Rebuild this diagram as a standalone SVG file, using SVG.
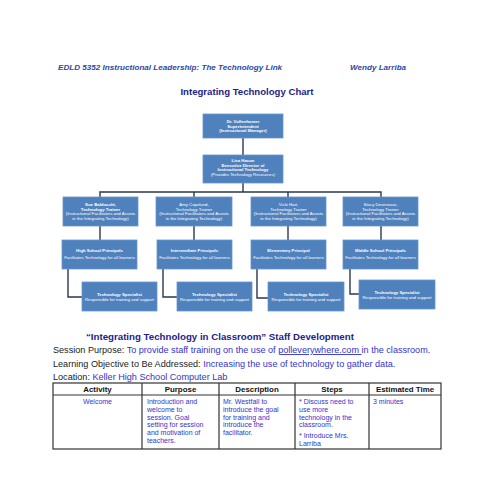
<svg xmlns="http://www.w3.org/2000/svg" width="495" height="495" viewBox="0 0 495 495">
<style>
.bg{fill:#ffffff}
.node{fill:#4F81BD;stroke:#6A96CC;stroke-width:0.8}
.nt{font-family:"Liberation Sans",Arial,sans-serif;font-size:4.3px;fill:#ffffff;text-anchor:middle}
.b{font-weight:bold}
.conn{fill:none;stroke:#2A3850;stroke-width:1.4}
.hdr{font-family:"Liberation Sans",Arial,sans-serif;font-size:8.1px;font-weight:bold;font-style:italic;fill:#2E4A9E}
.title{font-family:"Liberation Sans",Arial,sans-serif;font-size:9.6px;font-weight:bold;fill:#22228B;text-anchor:middle}
.sub{font-family:"Liberation Sans",Arial,sans-serif;font-size:9.7px;font-weight:bold;fill:#22228B}
.lbl{font-family:"Liberation Sans",Arial,sans-serif;font-size:9.1px;fill:#222222}
.val{fill:#3333CC}
.th{font-family:"Liberation Sans",Arial,sans-serif;font-size:7.9px;font-weight:bold;fill:#111111;text-anchor:middle}
.td{font-family:"Liberation Sans",Arial,sans-serif;font-size:7px;fill:#3333CC}
.grid{fill:none;stroke:#333333;stroke-width:1.2}
</style>
<rect class="bg" x="0" y="0" width="495" height="495"/>
<text class="hdr" x="58" y="70">EDLD 5352 Instructional Leadership: The Technology Link</text>
<text class="hdr" x="350" y="70">Wendy Larriba</text>
<text class="title" x="247" y="95">Integrating Technology Chart</text>

<g id="connectors">
<path class="conn" d="M243,138 V155"/>
<path class="conn" d="M243,183 V192"/>
<path class="conn" d="M100,197 V192 H381 V197"/>
<path class="conn" d="M194,192 V197"/>
<path class="conn" d="M288,192 V197"/>
<path class="conn" d="M100,226 V240"/>
<path class="conn" d="M194,226 V240"/>
<path class="conn" d="M288,226 V240"/>
<path class="conn" d="M381,226 V240"/>
<path class="conn" d="M68,269 V297 H82"/>
<path class="conn" d="M163,269 V297 H177"/>
<path class="conn" d="M257,269 V298 H268"/>
<path class="conn" d="M350,269 V294 H359"/>
</g>

<g id="n-superintendent">
<rect class="node" x="203" y="114" width="80" height="24"/>
<text class="nt b" x="243" y="123">Dr. Vollenhomer</text>
<text class="nt b" x="243" y="127.5">Superintendent</text>
<text class="nt b" x="243" y="132">(Instructional Manager)</text>
</g>
<g id="n-director">
<rect class="node" x="203" y="155" width="80" height="28"/>
<text class="nt b" x="243" y="162">Lisa Hacon</text>
<text class="nt b" x="243" y="166.5">Executive Director of</text>
<text class="nt b" x="243" y="171">Instructional Technology</text>
<text class="nt" x="243" y="175.5">(Provides Technology Resources)</text>
</g>

<g id="n-trainer-sue">
<rect class="node" x="63" y="197" width="75" height="29"/>
<text class="nt b" x="100.5" y="206">Sue Balducchi,</text>
<text class="nt b" x="100.5" y="210.5">Technology Trainer</text>
<text class="nt" x="100.5" y="215">(Instructional Facilitators and Assists</text>
<text class="nt" x="100.5" y="219.5">in the Integrating Technology)</text>
</g>
<g id="n-trainer-amy">
<rect class="node" x="156" y="197" width="76" height="29"/>
<text class="nt" x="194" y="206">Amy Copeland,</text>
<text class="nt" x="194" y="210.5">Technology Trainer</text>
<text class="nt" x="194" y="215">(Instructional Facilitators and Assists</text>
<text class="nt" x="194" y="219.5">in the Integrating Technology)</text>
</g>
<g id="n-trainer-vicki">
<rect class="node" x="251" y="197" width="75" height="29"/>
<text class="nt" x="288.5" y="206">Vicki Hart,</text>
<text class="nt" x="288.5" y="210.5">Technology Trainer</text>
<text class="nt" x="288.5" y="215">(Instructional Facilitators and Assists</text>
<text class="nt" x="288.5" y="219.5">in the Integrating Technology)</text>
</g>
<g id="n-trainer-stacy">
<rect class="node" x="343" y="197" width="75" height="29"/>
<text class="nt" x="380.5" y="206">Stacy Devereaux,</text>
<text class="nt" x="380.5" y="210.5">Technology Trainer</text>
<text class="nt" x="380.5" y="215">(Instructional Facilitators and Assists</text>
<text class="nt" x="380.5" y="219.5">in the Integrating Technology)</text>
</g>

<g id="n-principal-high">
<rect class="node" x="62" y="240" width="75" height="29"/>
<text class="nt b" x="99.5" y="252">High School Principals</text>
<text class="nt" x="99.5" y="259">Facilitates Technology for all learners</text>
</g>
<g id="n-principal-intermediate">
<rect class="node" x="157" y="240" width="75" height="29"/>
<text class="nt b" x="194.5" y="252">Intermediate Principals</text>
<text class="nt" x="194.5" y="259">Facilitates Technology for all learners</text>
</g>
<g id="n-principal-elementary">
<rect class="node" x="251" y="240" width="75" height="29"/>
<text class="nt b" x="288.5" y="252">Elementary Principal</text>
<text class="nt" x="288.5" y="259">Facilitates Technology for all learners</text>
</g>
<g id="n-principal-middle">
<rect class="node" x="343" y="240" width="75" height="29"/>
<text class="nt b" x="380.5" y="252">Middle School Principals</text>
<text class="nt" x="380.5" y="259">Facilitates Technology for all learners</text>
</g>

<g id="n-specialist-1">
<rect class="node" x="82" y="282" width="75" height="29"/>
<text class="nt b" x="119.5" y="295.5">Technology Specialist</text>
<text class="nt" x="119.5" y="300.5">Responsible for training and support</text>
</g>
<g id="n-specialist-2">
<rect class="node" x="177" y="282" width="75" height="29"/>
<text class="nt b" x="214.5" y="295.5">Technology Specialist</text>
<text class="nt" x="214.5" y="300.5">Responsible for training and support</text>
</g>
<g id="n-specialist-3">
<rect class="node" x="268" y="282" width="76" height="29"/>
<text class="nt b" x="306" y="295.5">Technology Specialist</text>
<text class="nt" x="306" y="300.5">Responsible for training and support</text>
</g>
<g id="n-specialist-4">
<rect class="node" x="359" y="280" width="76" height="29"/>
<text class="nt b" x="397" y="293.5">Technology Specialist</text>
<text class="nt" x="397" y="298.5">Responsible for training and support</text>
</g>

<text class="sub" x="86" y="340">“Integrating Technology in Classroom” Staff Development</text>
<text class="lbl" x="53" y="353">Session Purpose:  <tspan class="val">To provide staff training on the use of </tspan><tspan class="val" text-decoration="underline">polleverywhere.com </tspan><tspan class="val">in the classroom.</tspan></text>
<text class="lbl" x="53" y="367">Learning Objective to Be Addressed: <tspan class="val">Increasing the use of technology to gather data.</tspan></text>
<text class="lbl" x="53" y="380">Location:  <tspan class="val">Keller High School Computer Lab</tspan></text>

<g id="table">
<rect class="grid" x="53" y="383" width="388" height="66"/>
<path class="grid" d="M53,395 H441 M142,383 V449 M219,383 V449 M295,383 V449 M369,383 V449"/>
<text class="th" x="97.5" y="392">Activity</text>
<text class="th" x="180.5" y="392">Purpose</text>
<text class="th" x="257" y="392">Description</text>
<text class="th" x="332" y="392">Steps</text>
<text class="th" x="405" y="392">Estimated Time</text>
<text class="td" x="97.5" y="404" text-anchor="middle">Welcome</text>
<text class="td" x="147" y="404">Introduction and</text>
<text class="td" x="147" y="411.8">welcome to</text>
<text class="td" x="147" y="419.6">session.  Goal</text>
<text class="td" x="147" y="427.4">setting for session</text>
<text class="td" x="147" y="435.2">and motivation of</text>
<text class="td" x="147" y="443">teachers.</text>
<text class="td" x="223" y="404">Mr. Westfall to</text>
<text class="td" x="223" y="411.8">introduce the goal</text>
<text class="td" x="223" y="419.6">for training and</text>
<text class="td" x="223" y="427.4">introduce the</text>
<text class="td" x="223" y="435.2">facilitator.</text>
<text class="td" x="299" y="404">* Discuss need to</text>
<text class="td" x="299" y="411.8">use more</text>
<text class="td" x="299" y="419.6">technology in the</text>
<text class="td" x="299" y="427.4">classroom.</text>
<text class="td" x="299" y="438">* Introduce Mrs.</text>
<text class="td" x="299" y="445.8">Larriba</text>
<text class="td" x="373" y="404">3 minutes</text>
</g>
</svg>
